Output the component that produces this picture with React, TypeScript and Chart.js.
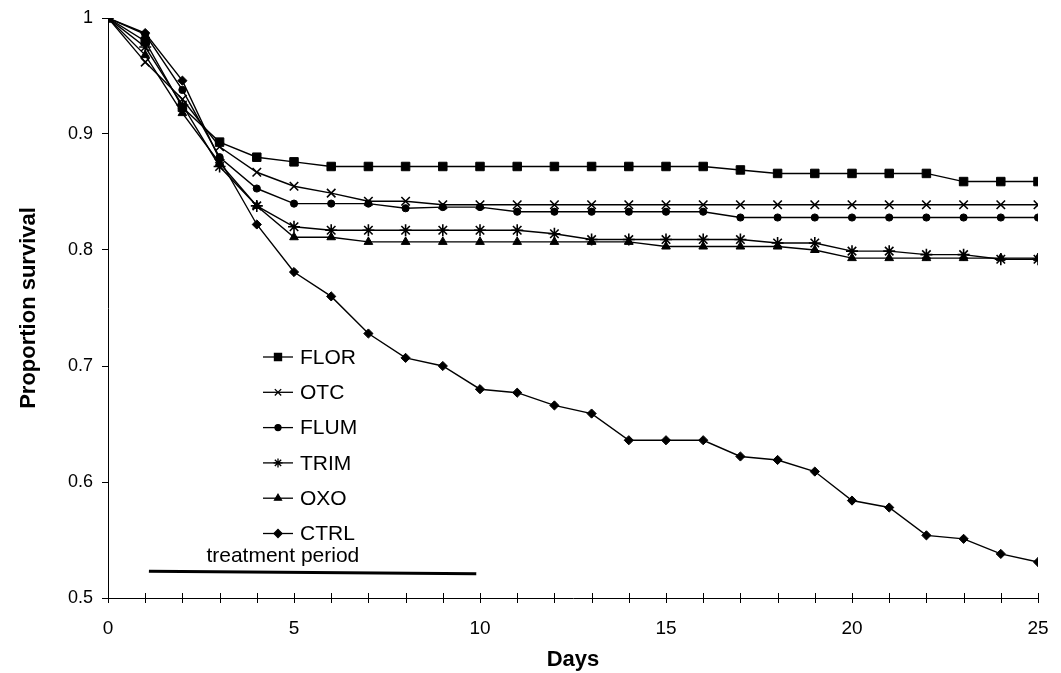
import React, { useEffect, useRef } from "react";
import { Chart, registerables } from "chart.js";
import { drawPoint } from "chart.js/helpers";

Chart.register(...registerables);

const days = [0, 1, 2, 3, 4, 5, 6, 7, 8, 9, 10, 11, 12, 13, 14, 15, 16, 17, 18, 19, 20, 21, 22, 23, 24, 25];
const FLOR = [1, 0.98, 0.923, 0.893, 0.88, 0.876, 0.872, 0.872, 0.872, 0.872, 0.872, 0.872, 0.872, 0.872, 0.872, 0.872, 0.872, 0.869, 0.866, 0.866, 0.866, 0.866, 0.866, 0.859, 0.859, 0.859];
const OTC = [1, 0.962, 0.93, 0.889, 0.867, 0.855, 0.849, 0.842, 0.842, 0.839, 0.839, 0.839, 0.839, 0.839, 0.839, 0.839, 0.839, 0.839, 0.839, 0.839, 0.839, 0.839, 0.839, 0.839, 0.839, 0.839];
const FLUM = [1, 0.986, 0.938, 0.88, 0.853, 0.84, 0.84, 0.84, 0.836, 0.837, 0.837, 0.833, 0.833, 0.833, 0.833, 0.833, 0.833, 0.828, 0.828, 0.828, 0.828, 0.828, 0.828, 0.828, 0.828, 0.828];
const TRIM = [1, 0.975, 0.925, 0.872, 0.838, 0.82, 0.817, 0.817, 0.817, 0.817, 0.817, 0.817, 0.814, 0.809, 0.809, 0.809, 0.809, 0.809, 0.806, 0.806, 0.799, 0.799, 0.796, 0.796, 0.792, 0.792];
const OXO = [1, 0.968, 0.918, 0.875, 0.838, 0.811, 0.811, 0.807, 0.807, 0.807, 0.807, 0.807, 0.807, 0.807, 0.807, 0.803, 0.803, 0.803, 0.803, 0.8, 0.793, 0.793, 0.793, 0.793, 0.793, 0.793];
const CTRL = [1, 0.987, 0.946, 0.878, 0.822, 0.781, 0.76, 0.728, 0.707, 0.7, 0.68, 0.677, 0.666, 0.659, 0.636, 0.636, 0.636, 0.622, 0.619, 0.609, 0.584, 0.578, 0.554, 0.551, 0.538, 0.531];

const seriesNames = ["FLOR", "OTC", "FLUM", "TRIM", "OXO", "CTRL"];
const seriesValues = [FLOR, OTC, FLUM, TRIM, OXO, CTRL];
const seriesMarkers = ["rect", "crossRot", "circle", "star", "triangle", "rectRot"];
const markerRadius = [6, 6, 3.6, 6, 5, 4.6];
const legendRadius = [5, 4.5, 3, 4.5, 4, 4];

const treatmentDays = [1.1, 9.9];
const treatmentLevel = [0.523, 0.521];
const treatmentLabel = "treatment period";

const yTicks = [0.5, 0.6, 0.7, 0.8, 0.9, 1];
const xLabelEvery = 5;

const FONT = "'Liberation Sans', Arial, sans-serif";
const NARROW = "'Liberation Sans Narrow', 'Liberation Sans', Arial, sans-serif";

const overlayPlugin = {
  id: "overlay",
  afterDraw(chart: any) {
    const ctx = chart.ctx;
    const xs = chart.scales.x;
    const ys = chart.scales.y;
    ctx.save();
    ctx.strokeStyle = "#000";
    ctx.lineWidth = 1;
    const yAxis = ys.getPixelForValue(0.5);
    for (const d of days) {
      const px = Math.round(xs.getPixelForValue(d)) + 0.5;
      ctx.beginPath();
      ctx.moveTo(px, yAxis - 5);
      ctx.lineTo(px, yAxis + 5);
      ctx.stroke();
    }
    ctx.fillStyle = "#000";
    ctx.font = "21px " + FONT;
    ctx.textAlign = "center";
    ctx.textBaseline = "alphabetic";
    ctx.fillText(treatmentLabel, xs.getPixelForValue(4.7), ys.getPixelForValue(0.531));
    const lx0 = 263;
    const lx1 = 293;
    const ly0 = 357;
    const step = 35.3;
    ctx.textAlign = "left";
    ctx.textBaseline = "middle";
    ctx.font = "21px " + FONT;
    seriesNames.forEach((name, i) => {
      const y = ly0 + i * step;
      ctx.strokeStyle = "#000";
      ctx.lineWidth = 1.3;
      ctx.beginPath();
      ctx.moveTo(lx0, y);
      ctx.lineTo(lx1, y);
      ctx.stroke();
      drawPoint(
        ctx,
        { pointStyle: seriesMarkers[i], radius: legendRadius[i], rotation: 0, borderWidth: 1.3 } as any,
        (lx0 + lx1) / 2,
        y
      );
      ctx.fillStyle = "#000";
      ctx.fillText(name, lx1 + 7, y + 1);
    });
    ctx.restore();
  },
};

export default function App() {
  const ref = useRef<HTMLCanvasElement | null>(null);
  useEffect(() => {
    if (!ref.current) return;
    const datasets: any[] = seriesNames.map((name, i) => ({
      label: name,
      data: days.map((d, k) => ({ x: d, y: seriesValues[i][k] })),
      borderColor: "#000",
      backgroundColor: "#000",
      borderWidth: 1.4,
      pointStyle: seriesMarkers[i],
      pointRadius: markerRadius[i],
      pointBorderWidth: i === 1 || i === 3 ? 1.6 : 1,
      pointBorderColor: "#000",
      pointBackgroundColor: "#000",
      tension: 0,
    }));
    datasets.push({
      label: treatmentLabel,
      data: treatmentDays.map((d, k) => ({ x: d, y: treatmentLevel[k] })),
      borderColor: "#000",
      borderWidth: 3,
      pointRadius: 0,
    });
    const chart = new Chart(ref.current, {
      type: "line",
      data: { datasets },
      plugins: [overlayPlugin],
      options: {
        animation: false,
        responsive: false,
        devicePixelRatio: 1,
        layout: { padding: { top: 18, right: 23, left: 0, bottom: 0 } },
        plugins: { legend: { display: false }, tooltip: { enabled: false } },
        scales: {
          x: {
            type: "linear",
            min: 0,
            max: 25,
            afterFit: (s: any) => {
              s.height = 75;
              s.paddingLeft = 0;
              s.paddingRight = 0;
            },
            afterBuildTicks: (s: any) => {
              s.ticks = days.filter((d) => d % xLabelEvery === 0).map((v) => ({ value: v }));
            },
            ticks: {
              color: "#000",
              font: { family: NARROW, size: 19 },
              padding: 19,
              maxRotation: 0,
            },
            grid: { display: false, drawTicks: false },
            border: { display: true, color: "#000", width: 1 },
            title: {
              display: true,
              text: "Days",
              color: "#000",
              font: { family: FONT, size: 22, weight: "bold" },
              padding: { top: 0, bottom: 0 },
            },
          },
          y: {
            min: 0.5,
            max: 1,
            afterFit: (s: any) => {
              s.width = 108;
              s.paddingTop = 0;
              s.paddingBottom = 0;
            },
            afterBuildTicks: (s: any) => {
              s.ticks = yTicks.map((v) => ({ value: v }));
            },
            ticks: {
              color: "#000",
              font: { family: FONT, size: 18 },
              padding: 9,
              callback: (v: any) => String(Math.round(Number(v) * 10) / 10),
            },
            grid: { display: true, drawOnChartArea: false, drawTicks: true, tickLength: 6, color: "#000" },
            border: { display: true, color: "#000", width: 1 },
            title: {
              display: true,
              text: "Proportion survival",
              color: "#000",
              font: { family: FONT, size: 22, weight: "bold" },
              padding: { top: 16, bottom: 0 },
            },
          },
        },
      } as any,
    });
    return () => chart.destroy();
  }, []);
  return (
    <div style={{ position: "absolute", left: 0, top: 0, width: 1061, height: 673, background: "#fff" }}>
      <canvas ref={ref} width={1061} height={673} style={{ width: 1061, height: 673, display: "block" }} />
    </div>
  );
}
